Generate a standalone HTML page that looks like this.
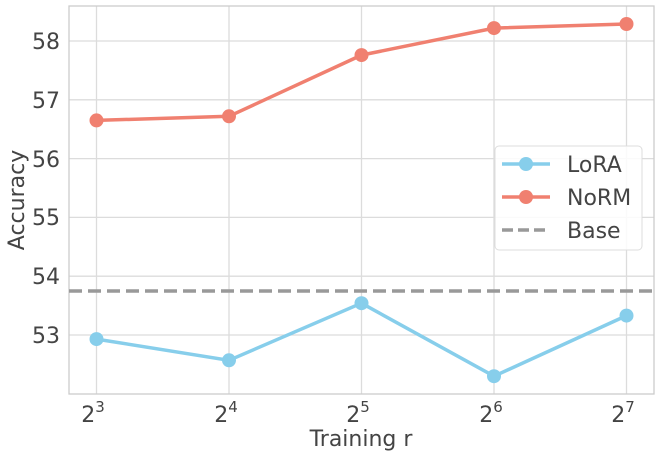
<!DOCTYPE html>
<html><head><meta charset="utf-8"><style>
html,body{margin:0;padding:0;background:#fff;}
svg{display:block;font-family:"DejaVu Sans","Liberation Sans",sans-serif;}
</style></head><body>
<svg width="660" height="456" viewBox="0 0 660 456" xmlns="http://www.w3.org/2000/svg">
<rect x="0" y="0" width="660" height="456" fill="#fff"/>
<g stroke="#dcdcdc" stroke-width="1.3">
<line x1="69" y1="41" x2="654" y2="41"/>
<line x1="69" y1="99.8" x2="654" y2="99.8"/>
<line x1="69" y1="158.6" x2="654" y2="158.6"/>
<line x1="69" y1="217.4" x2="654" y2="217.4"/>
<line x1="69" y1="276.2" x2="654" y2="276.2"/>
<line x1="69" y1="335" x2="654" y2="335"/>
<line x1="96.5" y1="6" x2="96.5" y2="394"/>
<line x1="229" y1="6" x2="229" y2="394"/>
<line x1="361.5" y1="6" x2="361.5" y2="394"/>
<line x1="494" y1="6" x2="494" y2="394"/>
<line x1="626.5" y1="6" x2="626.5" y2="394"/>
</g>
<rect x="69" y="6" width="585" height="388" fill="none" stroke="#cccccc" stroke-width="1.3"/>
<g fill="#444" font-size="22" text-anchor="end">
<text x="60" y="49">58</text>
<text x="60" y="108">57</text>
<text x="60" y="167">56</text>
<text x="60" y="225">55</text>
<text x="60" y="284">54</text>
<text x="60" y="343">53</text>
</g>
<g fill="#444" font-size="22" text-anchor="middle">
<text x="93" y="422">2<tspan font-size="15" dy="-10">3</tspan></text>
<text x="226" y="422">2<tspan font-size="15" dy="-10">4</tspan></text>
<text x="358" y="422">2<tspan font-size="15" dy="-10">5</tspan></text>
<text x="491" y="422">2<tspan font-size="15" dy="-10">6</tspan></text>
<text x="623" y="422">2<tspan font-size="15" dy="-10">7</tspan></text>
<text x="361" y="446">Training r</text>
</g>
<text x="24" y="200" fill="#444" font-size="22" text-anchor="middle" transform="rotate(-90 24 200)">Accuracy</text>
<line x1="69" y1="291" x2="654" y2="291" stroke="#999" stroke-width="3.5" stroke-dasharray="13,6"/>
<polyline points="96.5,120.4 229,116.3 361.5,55.1 494,28.1 626.5,24" fill="none" stroke="#f08070" stroke-width="3.5"/>
<g fill="#f08070">
<circle cx="96.5" cy="120.4" r="7"/><circle cx="229" cy="116.3" r="7"/><circle cx="361.5" cy="55.1" r="7"/><circle cx="494" cy="28.1" r="7"/><circle cx="626.5" cy="24" r="7"/>
</g>
<polyline points="96.5,339.1 229,360.3 361.5,303.2 494,376.2 626.5,315.6" fill="none" stroke="#87ceeb" stroke-width="3.5"/>
<g fill="#87ceeb">
<circle cx="96.5" cy="339.1" r="7"/><circle cx="229" cy="360.3" r="7"/><circle cx="361.5" cy="303.2" r="7"/><circle cx="494" cy="376.2" r="7"/><circle cx="626.5" cy="315.6" r="7"/>
</g>
<rect x="495" y="146" width="147" height="104" rx="4" fill="#fff" fill-opacity="0.85" stroke="#dddddd" stroke-width="1"/>
<line x1="502" y1="164" x2="550" y2="164" stroke="#87ceeb" stroke-width="3.5"/>
<circle cx="526" cy="164" r="7" fill="#87ceeb"/>
<line x1="502" y1="197" x2="550" y2="197" stroke="#f08070" stroke-width="3.5"/>
<circle cx="526" cy="197" r="7" fill="#f08070"/>
<line x1="502" y1="230" x2="550" y2="230" stroke="#999" stroke-width="3.5" stroke-dasharray="11,5"/>
<g fill="#444" font-size="22">
<text x="567" y="172">LoRA</text>
<text x="567" y="205">NoRM</text>
<text x="567" y="238">Base</text>
</g>
</svg>
</body></html>
